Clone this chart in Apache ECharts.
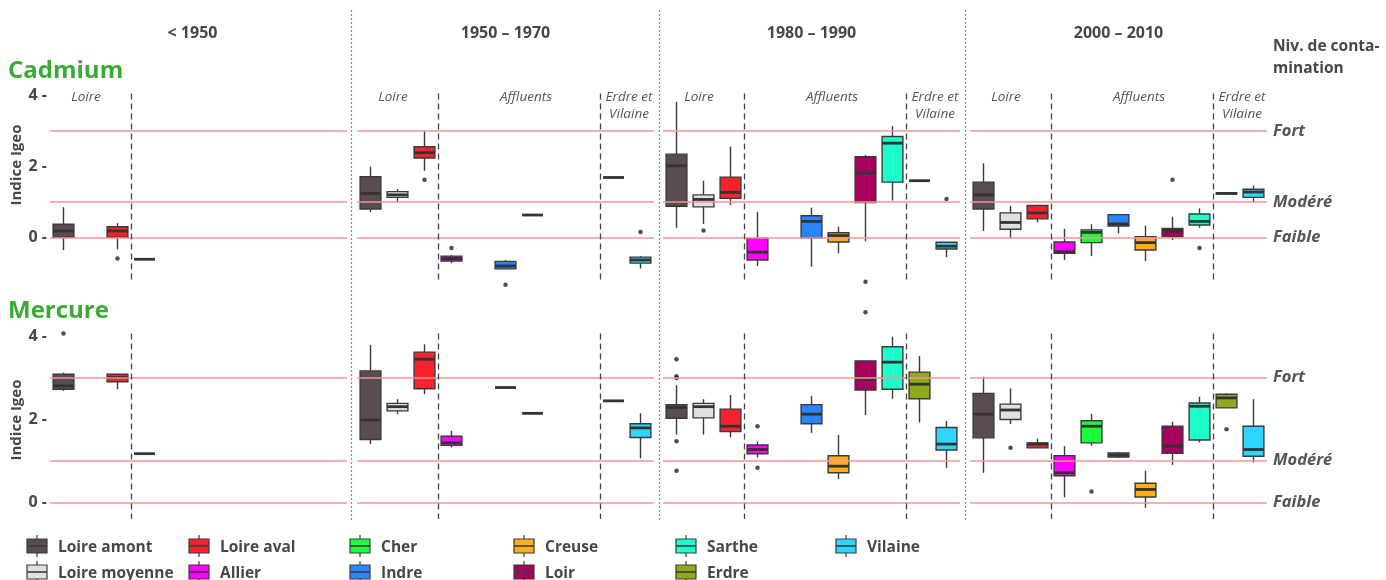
<!DOCTYPE html>
<html>
<head>
<meta charset="utf-8">
<script src="https://cdn.jsdelivr.net/npm/echarts@6/dist/echarts.min.js"></script>
<style>
  html, body { margin: 0; padding: 0; background: #fff; }
  #chart { width: 1386px; height: 580px; }
</style>
</head>
<body>
<div id="chart"></div>
<script>
// Species (x categories within each period) and their fill colours
const species = ['Loire amont', 'Loire moyenne', 'Loire aval', 'Allier', 'Cher', 'Indre',
                 'Creuse', 'Loir', 'Sarthe', 'Erdre', 'Vilaine'];
const speciesColors = ['#5A4D52', '#E0E0E0', '#F8222E', '#FF00FF', '#1AFF3A', '#2B84FF',
                       '#FFAE1A', '#A8005F', '#1AFFCC', '#8FAA1A', '#2ED6FF'];
const periods = ['< 1950', '1950 – 1970', '1980 – 1990', '2000 – 2010'];
const groupLabels = ['Loire', 'Affluents', 'Erdre et\nVilaine'];
const levelValues = [0, 1, 3];
const levelNames = ['Faible', 'Modéré', 'Fort'];
const yTicks = [0, 2, 4];

// Box statistics per species: [low whisker, Q1, median, Q3, high whisker]
// ---- Cadmium ----
const cdBefore1950 = [
  [-0.36, 0.00, 0.18, 0.37, 0.85], null, [-0.34, 0.00, 0.18, 0.30, 0.40], [-0.62, -0.62, -0.62, -0.62, -0.62],
  null, null, null, null, null, null, null];
const cd1950to1970 = [
  [0.71, 0.80, 1.24, 1.71, 2.00], [0.99, 1.13, 1.20, 1.29, 1.36], [1.88, 2.24, 2.39, 2.56, 3.01],
  [-0.73, -0.67, -0.60, -0.53, -0.50], null, [-0.89, -0.89, -0.81, -0.68, -0.64], [0.63, 0.63, 0.63, 0.63, 0.63],
  null, null, [1.69, 1.69, 1.69, 1.69, 1.69], [-0.88, -0.73, -0.64, -0.56, -0.53]];
const cd1980to1990 = [
  [0.27, 0.88, 2.02, 2.35, 3.83], [0.38, 0.86, 1.07, 1.20, 1.60], [0.91, 1.10, 1.27, 1.70, 2.56],
  [-0.81, -0.64, -0.42, -0.03, 0.72], null, [-0.83, -0.01, 0.45, 0.61, 0.84], [-0.45, -0.13, 0.05, 0.13, 0.30],
  [-0.11, 0.98, 1.82, 2.28, 2.33], [1.04, 1.56, 2.66, 2.85, 3.14], [1.60, 1.60, 1.60, 1.60, 1.60],
  [-0.56, -0.33, -0.25, -0.14, -0.14]];
const cd2000to2010 = [
  [0.18, 0.80, 1.20, 1.56, 2.09], [-0.03, 0.23, 0.42, 0.69, 0.89], [0.43, 0.52, 0.69, 0.90, 0.91],
  [-0.64, -0.45, -0.41, -0.13, 0.24], [-0.53, -0.15, 0.14, 0.21, 0.37], [0.11, 0.32, 0.38, 0.64, 0.65],
  [-0.67, -0.36, -0.15, 0.02, 0.33], [-0.08, 0.02, 0.18, 0.25, 0.58], [0.27, 0.35, 0.45, 0.66, 0.82],
  [1.22, 1.23, 1.24, 1.25, 1.26], [0.98, 1.13, 1.28, 1.36, 1.46]];
// Outliers: [species index, value]
const cdOutBefore1950 = [[2, -0.60]];
const cdOut1950to1970 = [[2, 1.63], [3, -0.30], [10, 0.15]];
const cdOut1980to1990 = [[1, 0.19], [10, 1.08]];
const cdOut2000to2010 = [[7, 1.63], [8, -0.30]];

// ---- Mercure ----
const hgBefore1950 = [
  [2.68, 2.72, 2.80, 3.08, 3.12], null, [2.72, 2.90, 3.00, 3.08, 3.08], [1.17, 1.17, 1.17, 1.17, 1.17],
  null, null, null, null, null, null, null];
const hg1950to1970 = [
  [1.40, 1.51, 1.98, 3.16, 3.78], [2.12, 2.20, 2.30, 2.38, 2.48], [2.60, 2.73, 3.44, 3.61, 3.80],
  [1.32, 1.37, 1.43, 1.59, 1.72], null, [2.76, 2.76, 2.76, 2.76, 2.76], [2.14, 2.14, 2.14, 2.14, 2.14],
  null, null, [2.44, 2.44, 2.44, 2.44, 2.44], [1.06, 1.56, 1.79, 1.89, 2.14]];
const hg1980to1990 = [
  [1.63, 2.02, 2.28, 2.35, 2.82], [1.63, 2.03, 2.30, 2.38, 2.48], [1.56, 1.70, 1.83, 2.24, 2.58],
  [1.08, 1.17, 1.27, 1.38, 1.46], null, [1.67, 1.89, 2.12, 2.35, 2.56], [0.56, 0.71, 0.87, 1.12, 1.62],
  [2.10, 2.70, 2.96, 3.40, 3.40], [2.49, 2.72, 3.37, 3.74, 3.98], [1.92, 2.49, 2.84, 3.13, 3.52],
  [0.83, 1.26, 1.40, 1.80, 1.96]];
const hg2000to2010 = [
  [0.71, 1.55, 2.12, 2.62, 3.02], [1.88, 1.99, 2.22, 2.36, 2.74], [1.31, 1.31, 1.40, 1.43, 1.53],
  [0.12, 0.64, 0.71, 1.12, 1.35], [1.36, 1.43, 1.83, 1.96, 2.13], [1.07, 1.09, 1.14, 1.19, 1.21],
  [-0.13, 0.13, 0.31, 0.46, 0.76], [0.90, 1.18, 1.35, 1.83, 1.94], [1.44, 1.50, 2.31, 2.39, 2.54],
  [2.27, 2.27, 2.51, 2.60, 2.62], [0.96, 1.11, 1.27, 1.83, 2.48]];
const hgOutBefore1950 = [[0, 4.06]];
const hgOut1950to1970 = [[5, 5.23]];
const hgOut1980to1990 = [[0, 3.44], [0, 3.03], [0, 2.99], [0, 1.47], [0, 0.76], [3, 1.83], [3, 0.83], [7, 5.30], [7, 4.57]];
const hgOut2000to2010 = [[1, 1.31], [4, 0.26], [9, 1.76]];

// ---------------- layout ----------------
const FONT = '"Open Sans", Lato, sans-serif';
const TEXT_DARK = '#474747';
const facetLeft = [50, 357, 663, 970];
const facetWidth = 297;
const panels = [
  { title: 'Cadmium', titleY: 71, nameY: 165, top: 92.2, height: 187.6, min: -1.2, max: 4.1,
    boxes: [cdBefore1950, cd1950to1970, cd1980to1990, cd2000to2010],
    outliers: [cdOutBefore1950, cdOut1950to1970, cdOut1980to1990, cdOut2000to2010] },
  { title: 'Mercure', titleY: 311, nameY: 420, top: 277.7, height: 241.3, min: -0.4, max: 5.4,
    boxes: [hgBefore1950, hg1950to1970, hg1980to1990, hg2000to2010],
    outliers: [hgOutBefore1950, hgOut1950to1970, hgOut1980to1990, hgOut2000to2010] }
];

function renderBox(params, api) {
  const i = api.value(0);
  const lo = api.coord([i, api.value(1)]);
  const q1 = api.coord([i, api.value(2)]);
  const med = api.coord([i, api.value(3)]);
  const q3 = api.coord([i, api.value(4)]);
  const hi = api.coord([i, api.value(5)]);
  const w = api.size([1, 0])[0] * 0.77;
  const x = lo[0];
  const stroke = '#3A3A3A';
  return {
    type: 'group',
    children: [
      { type: 'line', shape: { x1: x, y1: hi[1], x2: x, y2: q3[1] }, style: { stroke, lineWidth: 1.4 } },
      { type: 'line', shape: { x1: x, y1: q1[1], x2: x, y2: lo[1] }, style: { stroke, lineWidth: 1.4 } },
      { type: 'rect', shape: { x: x - w / 2, y: q3[1], width: w, height: q1[1] - q3[1] },
        style: { fill: speciesColors[i], stroke, lineWidth: 1.4 } },
      { type: 'line', shape: { x1: x - w / 2, y1: med[1], x2: x + w / 2, y2: med[1] },
        style: { stroke: '#333', lineWidth: 2.8 } }
    ]
  };
}

function guideLines(panel, f) {
  const isLast = f === periods.length - 1;
  const data = levelValues.map((v, k) => ({
    yAxis: v, name: levelNames[k],
    lineStyle: { color: '#F49494', width: 1.6, type: 'solid' },
    label: { show: isLast, position: 'end', formatter: '{b}', distance: 6, color: '#555',
             fontStyle: 'italic', fontWeight: 'bold', fontSize: 16.5, fontFamily: FONT }
  }));
  const cuts = f === 0 ? [2.5] : [2.5, 8.5];
  cuts.forEach(c => data.push([
    { coord: [c, 4.06], lineStyle: { color: '#444', width: 1.3, type: [6, 4] }, label: { show: false } },
    { coord: [c, panel.min] }
  ]));
  return { silent: true, symbol: ['none', 'none'], animation: false, data };
}

const grids = [], xAxes = [], yAxes = [], series = [];
panels.forEach((panel, p) => {
  periods.forEach((period, f) => {
    const g = grids.length;
    grids.push({ left: facetLeft[f], width: facetWidth, top: panel.top, height: panel.height,
                 containLabel: false, outerBoundsMode: 'none' });
    xAxes.push({ type: 'value', gridIndex: g, min: -0.5, max: species.length - 0.5, show: false,
                 splitLine: { show: false } });
    yAxes.push({
      type: 'value', gridIndex: g, min: panel.min, max: panel.max, show: f === 0,
      splitLine: { show: false }, axisLine: { show: false }, axisTick: { show: false },
      axisLabel: { customValues: yTicks, formatter: v => v + ' -', margin: 3,
                   color: TEXT_DARK, fontWeight: 'bold', fontSize: 16, fontFamily: FONT }
    });
    // reference levels and group separators
    series.push({ type: 'scatter', xAxisIndex: g, yAxisIndex: g, data: [], z: 1,
                  markLine: guideLines(panel, f) });
    // boxes
    const boxData = [];
    panel.boxes[f].forEach((s, i) => { if (s) boxData.push([i].concat(s)); });
    series.push({ type: 'custom', xAxisIndex: g, yAxisIndex: g, z: 2, renderItem: renderBox,
                  encode: { x: 0, y: [1, 2, 3, 4, 5] }, data: boxData, silent: true });
    // outliers
    series.push({ type: 'scatter', xAxisIndex: g, yAxisIndex: g, z: 3, symbolSize: 4.5,
                  itemStyle: { color: '#222' }, data: panel.outliers[f], silent: true });
  });
});

// ---------------- text & decoration ----------------
const graphic = [];
// dotted separators between periods
[351.5, 659.5, 965.5].forEach(x => graphic.push({
  type: 'line', shape: { x1: x, y1: 10, x2: x, y2: 521 },
  style: { stroke: '#8A8A8A', lineWidth: 1.2, lineDash: [2, 2] }, silent: true
}));
// period headers
periods.forEach((t, f) => graphic.push({
  type: 'text', x: facetLeft[f] + facetWidth / 2 - (f === 0 ? 6 : 0), y: 33,
  style: { text: t, fill: TEXT_DARK, font: 'bold 16px ' + FONT, textAlign: 'center', textVerticalAlign: 'middle' }
}));
// panel titles and y-axis names
panels.forEach(panel => {
  graphic.push({ type: 'text', x: 8, y: panel.titleY,
    style: { text: panel.title, fill: '#3AAA35', font: 'bold 24px ' + FONT, textVerticalAlign: 'middle' } });
  graphic.push({ type: 'text', x: 17, y: panel.nameY, rotation: Math.PI / 2,
    style: { text: 'Indice Igeo', fill: TEXT_DARK, font: 'bold 15px ' + FONT,
             textAlign: 'center', textVerticalAlign: 'middle' } });
});
// river-group labels in the top panel
const groupOffsets = [36, 169, 272];
periods.forEach((t, f) => {
  const n = f === 0 ? 1 : groupLabels.length;
  for (let k = 0; k < n; k++) {
    graphic.push({ type: 'text', x: facetLeft[f] + groupOffsets[k], y: 89,
      style: { text: groupLabels[k], fill: '#555', font: 'italic 13.5px ' + FONT, textAlign: 'center',
               textVerticalAlign: 'top', lineHeight: 17 } });
  }
});
// contamination-level header
graphic.push({ type: 'text', x: 1273, y: 36,
  style: { text: 'Niv. de conta-\nmination', fill: TEXT_DARK, font: 'bold 15.5px ' + FONT,
           lineHeight: 22, textVerticalAlign: 'top' } });
// legend
const legendX = [27, 189, 350, 514, 676, 836];
const legendY = [546, 572];
species.forEach((name, i) => {
  const x = legendX[Math.floor(i / 2)], y = legendY[i % 2];
  const cx = x + 10;
  graphic.push({ type: 'group', children: [
    { type: 'line', shape: { x1: cx, y1: y - 11, x2: cx, y2: y + 11 }, style: { stroke: '#3A3A3A', lineWidth: 1.2 } },
    { type: 'rect', shape: { x: x, y: y - 7, width: 20, height: 14 },
      style: { fill: speciesColors[i], stroke: '#3A3A3A', lineWidth: 1.2 } },
    { type: 'line', shape: { x1: x, y1: y, x2: x + 20, y2: y }, style: { stroke: '#3A3A3A', lineWidth: 1.6 } },
    { type: 'text', x: x + 31, y: y + 2,
      style: { text: name, fill: TEXT_DARK, font: 'bold 15.5px ' + FONT, textVerticalAlign: 'middle' } }
  ]});
});

const chart = echarts.init(document.getElementById('chart'), null, { renderer: 'canvas' });
chart.setOption({
  animation: false,
  backgroundColor: '#fff',
  grid: grids,
  xAxis: xAxes,
  yAxis: yAxes,
  series: series,
  graphic: graphic
});
</script>
</body>
</html>
